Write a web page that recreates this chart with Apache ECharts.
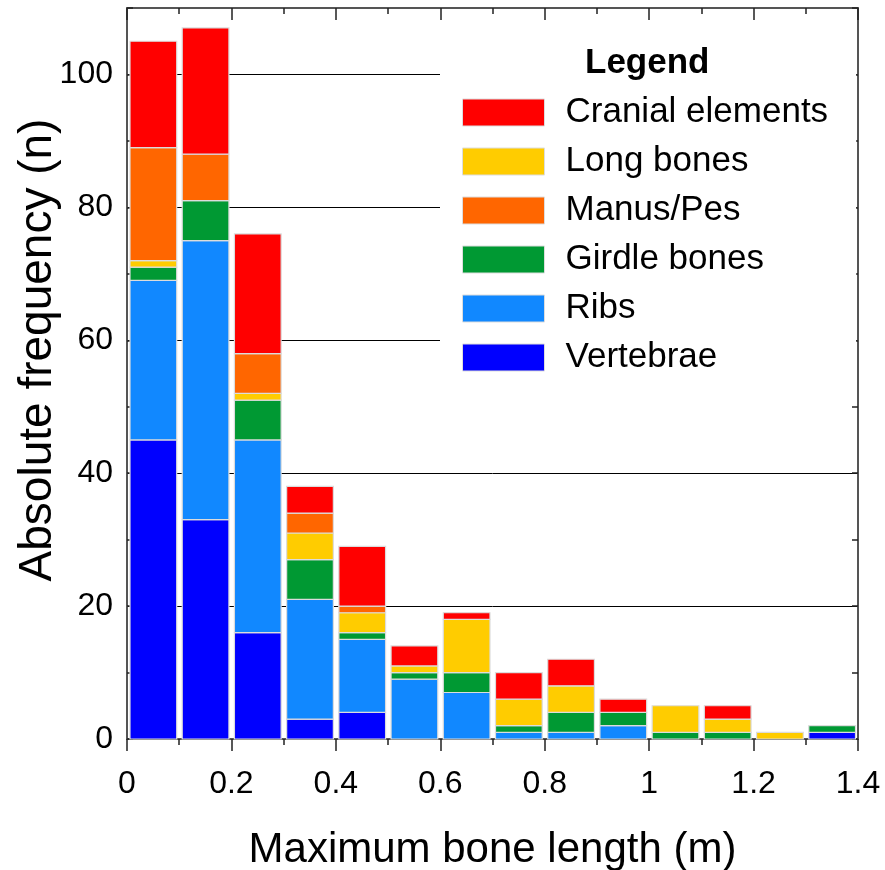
<!DOCTYPE html>
<html>
<head>
<meta charset="utf-8">
<script src="https://cdn.jsdelivr.net/npm/echarts@6/dist/echarts.min.js"></script>
<style>html,body{margin:0;padding:0;background:#fff;}#chart{width:885px;height:870px;}</style>
</head>
<body>
<div id="chart"></div>
<script>
// Bin edges (m): bins are [edge, edge+0.1)
const binStarts = [0, 0.1, 0.2, 0.3, 0.4, 0.5, 0.6, 0.7, 0.8, 0.9, 1.0, 1.1, 1.2, 1.3];
const binWidth = 0.1;
// Counts per bin, stack order bottom -> top
const vertebrae = [45, 33, 16, 3, 4, 0, 0, 0, 0, 0, 0, 0, 0, 1];
const ribs      = [24, 42, 29, 18, 11, 9, 7, 1, 1, 2, 0, 0, 0, 0];
const girdle    = [2, 6, 6, 6, 1, 1, 3, 1, 3, 2, 1, 1, 0, 1];
const longBones = [1, 0, 1, 4, 3, 1, 8, 4, 4, 0, 4, 2, 1, 0];
const manusPes  = [17, 7, 6, 3, 1, 0, 0, 0, 0, 0, 0, 0, 0, 0];
const cranial   = [16, 19, 18, 4, 9, 3, 1, 4, 4, 2, 0, 2, 0, 0];
const seriesNames = ['Vertebrae', 'Ribs', 'Girdle bones', 'Long bones', 'Manus/Pes', 'Cranial elements'];
const seriesColors = ['#0000ff', '#1188ff', '#009933', '#ffcc00', '#ff6600', '#ff0000'];
const legendOrder = ['Cranial elements', 'Long bones', 'Manus/Pes', 'Girdle bones', 'Ribs', 'Vertebrae'];
const xTickLabels = [0, 0.2, 0.4, 0.6, 0.8, 1, 1.2, 1.4];

const FONT = "'Liberation Sans', Arial, Helvetica, sans-serif";
const allData = [vertebrae, ribs, girdle, longBones, manusPes, cranial];
const base = binStarts.map(() => 0);
const series = allData.map((arr, si) => {
  const data = [];
  arr.forEach((v, i) => {
    const b = base[i];
    if (v > 0) data.push([binStarts[i], binStarts[i] + binWidth, b, b + v]);
    base[i] = b + v;
  });
  return {
    name: seriesNames[si],
    type: 'custom',
    z: 3,
    itemStyle: { color: seriesColors[si], borderColor: '#dddddd', borderWidth: 1 },
    encode: { x: [0, 1], y: [2, 3] },
    data: data,
    renderItem: function (params, api) {
      const p0 = api.coord([api.value(0), api.value(3)]);
      const p1 = api.coord([api.value(1), api.value(2)]);
      return {
        type: 'rect',
        shape: { x: p0[0] + 3, y: p0[1], width: p1[0] - p0[0] - 5.5, height: p1[1] - p0[1] },
        style: { fill: api.visual('color'), stroke: '#dcdcdc', lineWidth: 1.2 }
      };
    }
  };
});

const frame = { show: true, onZero: false, lineStyle: { color: '#555', width: 2 } };
const chart = echarts.init(document.getElementById('chart'));
chart.setOption({
  animation: false,
  backgroundColor: '#fff',
  grid: { left: 127, right: 27, top: 8, bottom: 131, containLabel: false, outerBoundsMode: 'none' },
  title: {
    text: 'Legend', left: 580, top: 41,
    textStyle: { fontFamily: FONT, fontSize: 35, fontWeight: 'bold', color: '#000' }
  },
  legend: {
    data: legendOrder,
    orient: 'vertical',
    left: 440, top: 25,
    padding: [70, 28, 8, 22],
    backgroundColor: '#fff',
    itemWidth: 82, itemHeight: 27, itemGap: 14,
    icon: 'rect',
    itemStyle: { borderColor: '#dddddd', borderWidth: 1 },
    textStyle: { fontFamily: FONT, fontSize: 35, color: '#000', padding: [0, 0, 0, 16], lineHeight: 35 }
  },
  xAxis: [{
    type: 'value', position: 'bottom', min: 0, max: 1.4, interval: 0.2,
    axisLine: frame,
    axisTick: { show: true, inside: false, length: 12, lineStyle: { color: '#222', width: 1.5 } },
    minorTick: { show: true, splitNumber: 2, length: 6, lineStyle: { color: '#222', width: 1.5 } },
    splitLine: { show: false },
    axisLabel: { fontFamily: FONT, fontSize: 32, color: '#000', margin: 29,
      formatter: v => (xTickLabels.indexOf(Math.round(v * 10) / 10) >= 0 ? String(Math.round(v * 10) / 10) : '') },
    name: 'Maximum bone length (m)', nameLocation: 'middle', nameGap: 90,
    nameTextStyle: { fontFamily: FONT, fontSize: 42, color: '#000' }
  }, {
    type: 'value', position: 'top', min: 0, max: 1.4, interval: 0.2,
    axisLine: frame,
    axisTick: { show: true, inside: true, length: 12, lineStyle: { color: '#222', width: 1.5 } },
    minorTick: { show: true, splitNumber: 2, length: 6, lineStyle: { color: '#222', width: 1.5 } },
    splitLine: { show: false },
    axisLabel: { show: false }
  }],
  yAxis: [{
    type: 'value', position: 'left', min: 0, max: 110, interval: 10,
    axisLine: frame,
    axisTick: { show: true, inside: true, length: 6, lineStyle: { color: '#222', width: 1.5 } },
    splitLine: { show: true, lineStyle: { color: ['#000', 'rgba(0,0,0,0)'], width: 1 } },
    axisLabel: { fontFamily: FONT, fontSize: 32, color: '#000', margin: 14,
      formatter: v => (v % 20 === 0 && v <= 100 ? String(v) : '') }
  }, {
    type: 'value', position: 'right', min: 0, max: 110, interval: 10,
    axisLine: frame,
    axisTick: { show: true, inside: true, length: 6, lineStyle: { color: '#222', width: 1.5 } },
    splitLine: { show: false },
    axisLabel: { show: false }
  }],
  graphic: [{
    type: 'text', x: 38, y: 350, rotation: Math.PI / 2,
    style: { text: 'Absolute frequency (n)', fontFamily: FONT, fontSize: 46, fill: '#000',
      textAlign: 'center', textVerticalAlign: 'middle' }
  }],
  series: series
});
</script>
</body>
</html>
